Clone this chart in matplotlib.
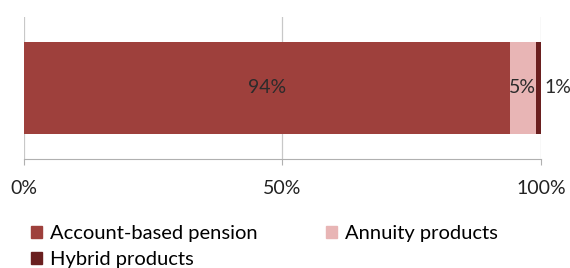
import matplotlib
matplotlib.use('Agg')
import matplotlib.pyplot as plt
from matplotlib.patches import Patch

plt.rcParams['font.family'] = ['Lato', 'DejaVu Sans']

# data
categories = ['Account-based pension', 'Annuity products', 'Hybrid products']
shares = [94, 5, 1]
labels = ['94%', '5%', '1%']
colors = ['#9e403c', '#e8b5b5', '#6a1f1f']
xticks = [0, 50, 100]
xtick_labels = ['0%', '50%', '100%']

fig = plt.figure(figsize=(5.7, 2.68), dpi=100)
ax = fig.add_axes([0.042, 0.407, 0.907, 0.53])

left = 0
for cat, val, lab, col in zip(categories, shares, labels, colors):
    ax.barh(0, val, left=left, height=0.648, color=col, label=cat, zorder=3)
    if val >= 3:
        ax.text(left + val / 2, 0, lab, ha='center', va='center', fontsize=14, color='#2b2b2b', zorder=4)
    else:
        # small segment: label outside the bar
        ax.text(left + val + 0.6, 0, lab, ha='left', va='center', fontsize=14, color='#2b2b2b', zorder=4)
    left += val

ax.set_xlim(0, 100)
ax.set_ylim(-0.5, 0.5)
ax.set_yticks([])
ax.set_xticks(xticks)
ax.set_xticklabels(xtick_labels, fontsize=14, color='#222222')
ax.tick_params(axis='x', length=4.5, color='#b0b0b0', pad=11)
ax.grid(True, axis='x', color='#c8c8c8', linewidth=0.9, zorder=0)
for side in ['top', 'right', 'left']:
    ax.spines[side].set_visible(False)
ax.spines['bottom'].set_color('#b0b0b0')

# legend ordered row-wise like the original
handles = [Patch(color=c) for c in colors]
order = [0, 2, 1]
fig.legend([handles[i] for i in order], [categories[i] for i in order], ncol=2,
           loc='upper left', bbox_to_anchor=(0.054, 0.16), frameon=False,
           fontsize=14.5, handlelength=0.55, handleheight=0.55, handletextpad=0.4,
           columnspacing=3.4, labelspacing=0.45, borderaxespad=0, borderpad=0)

fig.savefig('out.png', dpi=100)
